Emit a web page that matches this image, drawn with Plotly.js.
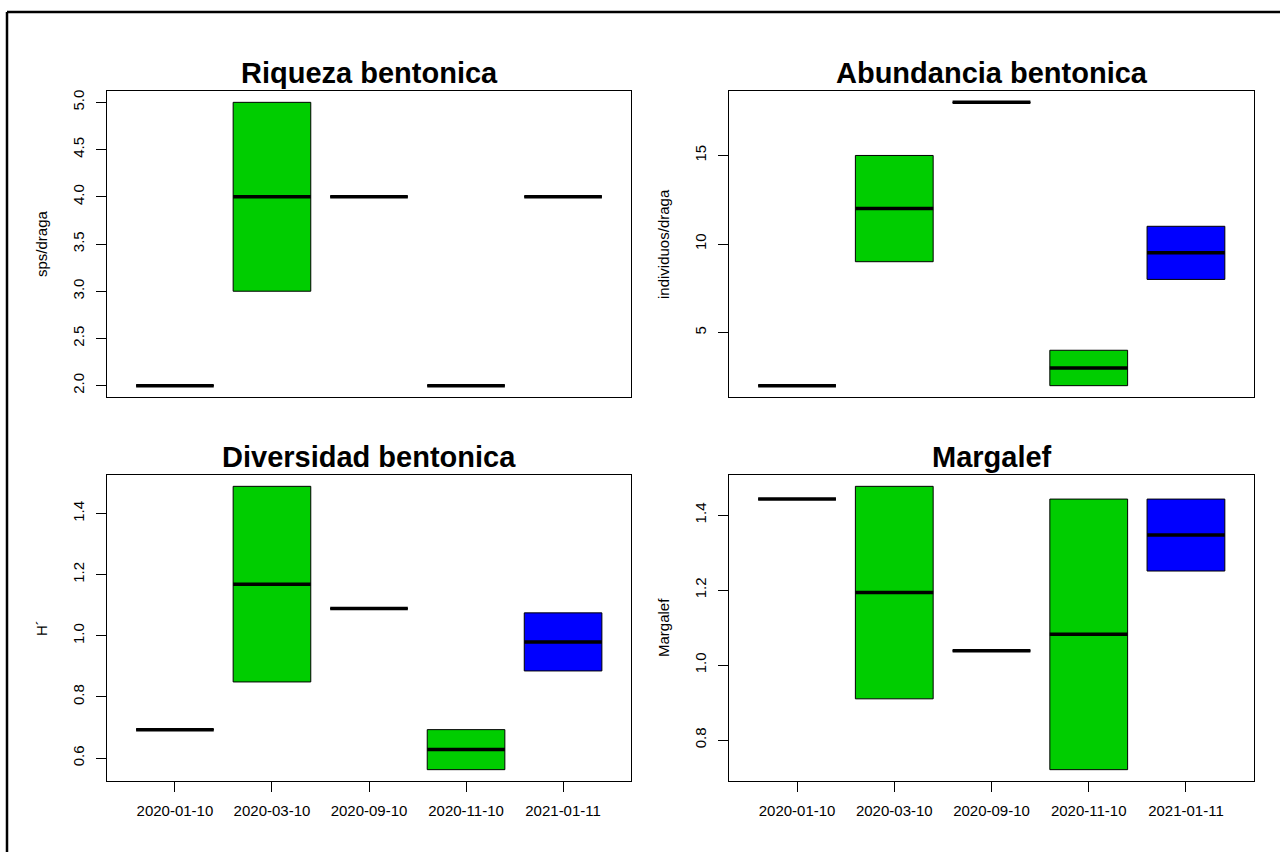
<!DOCTYPE html>
<html>
<head>
<meta charset="utf-8">
<script src="https://cdn.plot.ly/plotly-3.0.1.min.js"></script>
<style>
  html, body { margin: 0; padding: 0; background: #fff; }
  #chart { width: 1280px; height: 852px; }
</style>
</head>
<body>
<div id="chart"></div>
<script>
// ---- Data ----
const dates = ['2020-01-10', '2020-03-10', '2020-09-10', '2020-11-10', '2021-01-11'];
const boxColors = ['#00CD00', '#00CD00', '#00CD00', '#00CD00', '#0000FF'];

const titles = ['Riqueza bentonica', 'Abundancia bentonica', 'Diversidad bentonica', 'Margalef'];
const yTitles = ['sps/draga', 'individuos/draga', 'H´', 'Margalef'];

const riquezaMin = [2, 3, 4, 2, 4];
const riquezaMed = [2, 4, 4, 2, 4];
const riquezaMax = [2, 5, 4, 2, 4];

const abundMin = [2, 9, 18, 2, 8];
const abundMed = [2, 12, 18, 3, 9.5];
const abundMax = [2, 15, 18, 4, 11];

const diversMin = [0.693, 0.849, 1.089, 0.562, 0.885];
const diversMed = [0.693, 1.169, 1.089, 0.628, 0.980];
const diversMax = [0.693, 1.489, 1.089, 0.693, 1.075];

const margMin = [1.443, 0.910, 1.038, 0.721, 1.251];
const margMed = [1.443, 1.194, 1.038, 1.082, 1.347];
const margMax = [1.443, 1.477, 1.038, 1.443, 1.443];

const yDticks = [0.5, 5, 0.2, 0.2];
const yFormats = ['.1f', 'd', '.1f', '.1f'];

// ---- Layout geometry ----
const W = 1280, H = 852;
const FONT = '"Liberation Sans", Arial, Helvetica, sans-serif';
const colPx = [[107, 631], [729, 1254]];
const rowPx = [[91, 397], [475, 781]];

const panels = [
  {mins: riquezaMin, meds: riquezaMed, maxs: riquezaMax, row: 0, col: 0},
  {mins: abundMin, meds: abundMed, maxs: abundMax, row: 0, col: 1},
  {mins: diversMin, meds: diversMed, maxs: diversMax, row: 1, col: 0},
  {mins: margMin, meds: margMed, maxs: margMax, row: 1, col: 1}
];

const positions = dates.map((d, i) => i + 1);
const traces = [];
const layout = {
  width: W, height: H,
  margin: {l: 0, r: 0, t: 0, b: 0},
  paper_bgcolor: '#fff', plot_bgcolor: '#fff',
  showlegend: false, hovermode: false,
  barmode: 'overlay',
  font: {family: FONT, color: '#000', size: 15},
  annotations: [],
  shapes: [
    {type: 'line', xref: 'paper', yref: 'paper', x0: 7 / W, x1: 1, y0: 1 - 12 / H, y1: 1 - 12 / H, line: {color: '#000', width: 2.5}},
    {type: 'line', xref: 'paper', yref: 'paper', x0: 7 / W, x1: 7 / W, y0: 1 - 12 / H, y1: 0, line: {color: '#000', width: 2.5}}
  ]
};

panels.forEach((p, k) => {
  const n = k + 1;
  const xa = n === 1 ? 'x' : 'x' + n;
  const ya = n === 1 ? 'y' : 'y' + n;
  const xKey = n === 1 ? 'xaxis' : 'xaxis' + n;
  const yKey = n === 1 ? 'yaxis' : 'yaxis' + n;

  // boxes (min..max hinges)
  traces.push({
    type: 'bar', xaxis: xa, yaxis: ya,
    x: positions,
    base: p.mins,
    y: p.maxs.map((v, i) => v - p.mins[i]),
    width: 0.8,
    marker: {color: boxColors, line: {color: '#000', width: 1}},
    hoverinfo: 'skip'
  });
  // medians
  const mx = [], my = [];
  positions.forEach((x, i) => { mx.push(x - 0.4, x + 0.4, null); my.push(p.meds[i], p.meds[i], null); });
  traces.push({
    type: 'scatter', mode: 'lines', xaxis: xa, yaxis: ya,
    x: mx, y: my, line: {color: '#000', width: 3.5}, hoverinfo: 'skip'
  });

  const lo = Math.min(...p.mins), hi = Math.max(...p.maxs);
  const pad = 0.04 * (hi - lo);
  const xd = colPx[p.col].map(v => v / W);
  const yd = [1 - rowPx[p.row][1] / H, 1 - rowPx[p.row][0] / H];

  layout[xKey] = {
    domain: xd, anchor: ya, range: [0.3, 5.7],
    tickvals: positions, ticktext: dates,
    showticklabels: p.row === 1, ticks: p.row === 1 ? 'outside' : '',
    ticklen: 10, tickwidth: 1, tickcolor: '#000',
    tickfont: {family: FONT, size: 15, color: '#000'},
    ticklabelstandoff: 6,
    showline: true, mirror: true, linecolor: '#000', linewidth: 1,
    showgrid: false, zeroline: false, fixedrange: true
  };
  layout[yKey] = {
    domain: yd, anchor: xa, range: [lo - pad, hi + pad],
    tick0: 0, dtick: yDticks[k], tickformat: yFormats[k],
    ticks: 'outside', ticklen: 10, tickwidth: 1, tickcolor: '#000',
    tickangle: -90,
    tickfont: {family: FONT, size: 15, color: '#000'},
    ticklabelstandoff: 6,
    showline: true, mirror: true, linecolor: '#000', linewidth: 1,
    showgrid: false, zeroline: false, fixedrange: true
  };

  // panel title
  layout.annotations.push({
    xref: 'paper', yref: 'paper',
    x: (xd[0] + xd[1]) / 2, y: yd[1] + 18 / H,
    xanchor: 'center', yanchor: 'middle',
    text: '<b>' + titles[k] + '</b>', showarrow: false,
    font: {family: FONT, size: 29, color: '#000'}
  });
  // y axis title
  layout.annotations.push({
    xref: 'paper', yref: 'paper',
    x: (colPx[p.col][0] - 66) / W, y: (yd[0] + yd[1]) / 2,
    xanchor: 'center', yanchor: 'middle', textangle: -90,
    text: yTitles[k], showarrow: false,
    font: {family: FONT, size: 15, color: '#000'}
  });
});

Plotly.newPlot('chart', traces, layout, {displayModeBar: false, staticPlot: true});
</script>
</body>
</html>
